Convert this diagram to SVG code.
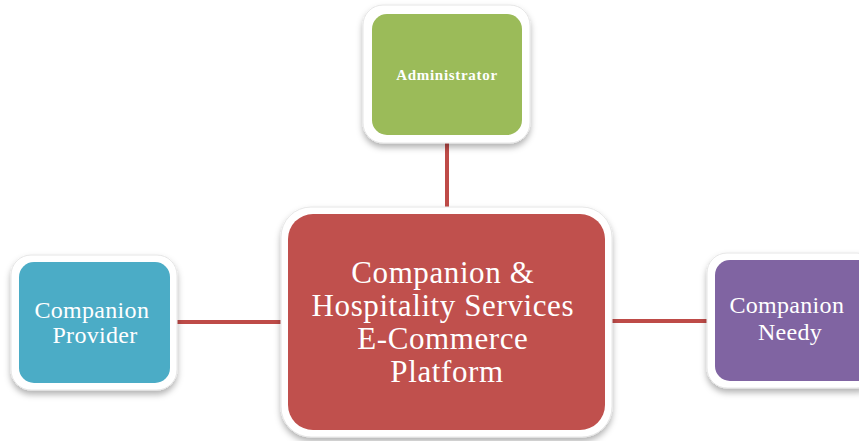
<svg xmlns="http://www.w3.org/2000/svg" width="859" height="441" viewBox="0 0 859 441">
  <defs>
    <filter id="shadow" x="-10%" y="-10%" width="120%" height="125%">
      <feDropShadow dx="0" dy="4" stdDeviation="3" flood-color="#000" flood-opacity="0.3"/>
    </filter>
    <style>
      .frame { fill: #ffffff; stroke: #e6e6e6; stroke-width: 1; filter: url(#shadow); }
      .link { stroke: #be4b48; stroke-width: 4; fill: none; }
      .label { fill: #ffffff; font-family: "Liberation Serif", "DejaVu Serif", serif; text-anchor: middle; }
    </style>
  </defs>
  <rect width="859" height="441" fill="#ffffff"/>

  <!-- connectors -->
  <g id="connectors">
    <line class="link" x1="447" y1="140" x2="447" y2="210"/>
    <line class="link" x1="175" y1="322" x2="283" y2="322"/>
    <line class="link" x1="610" y1="321" x2="709" y2="321"/>
  </g>

  <!-- administrator -->
  <g id="administrator">
    <rect class="frame" x="363" y="5" width="167" height="138" rx="20"/>
    <rect x="372" y="14" width="150" height="121" rx="15" fill="#9bbb59"/>
    <text class="label" x="447" y="80" font-size="15" font-weight="bold" letter-spacing="0.7">Administrator</text>
  </g>

  <!-- platform -->
  <g id="platform">
    <rect class="frame" x="281" y="207" width="331" height="230" rx="30"/>
    <rect x="288" y="214" width="317" height="216" rx="25" fill="#c0504d"/>
    <text class="label" font-size="31" letter-spacing="0.6">
      <tspan x="447" y="283">Companion &amp;</tspan>
      <tspan x="447" y="316">Hospitality Services</tspan>
      <tspan x="447" y="349">E-Commerce</tspan>
      <tspan x="447" y="382">Platform</tspan>
    </text>
  </g>

  <!-- provider -->
  <g id="provider">
    <rect class="frame" x="11" y="255" width="166" height="135" rx="20"/>
    <rect x="19" y="262" width="151" height="121" rx="15" fill="#4bacc6"/>
    <text class="label" font-size="24" letter-spacing="0.3">
      <tspan x="95" y="318">Companion</tspan>
      <tspan x="95" y="343">Provider</tspan>
    </text>
  </g>

  <!-- needy -->
  <g id="needy">
    <rect class="frame" x="707" y="253" width="170" height="135" rx="20"/>
    <rect x="715" y="260" width="160" height="121" rx="15" fill="#8064a2"/>
    <text class="label" font-size="24" letter-spacing="0.3">
      <tspan x="790" y="313">Companion</tspan>
      <tspan x="790" y="340">Needy</tspan>
    </text>
  </g>
</svg>
